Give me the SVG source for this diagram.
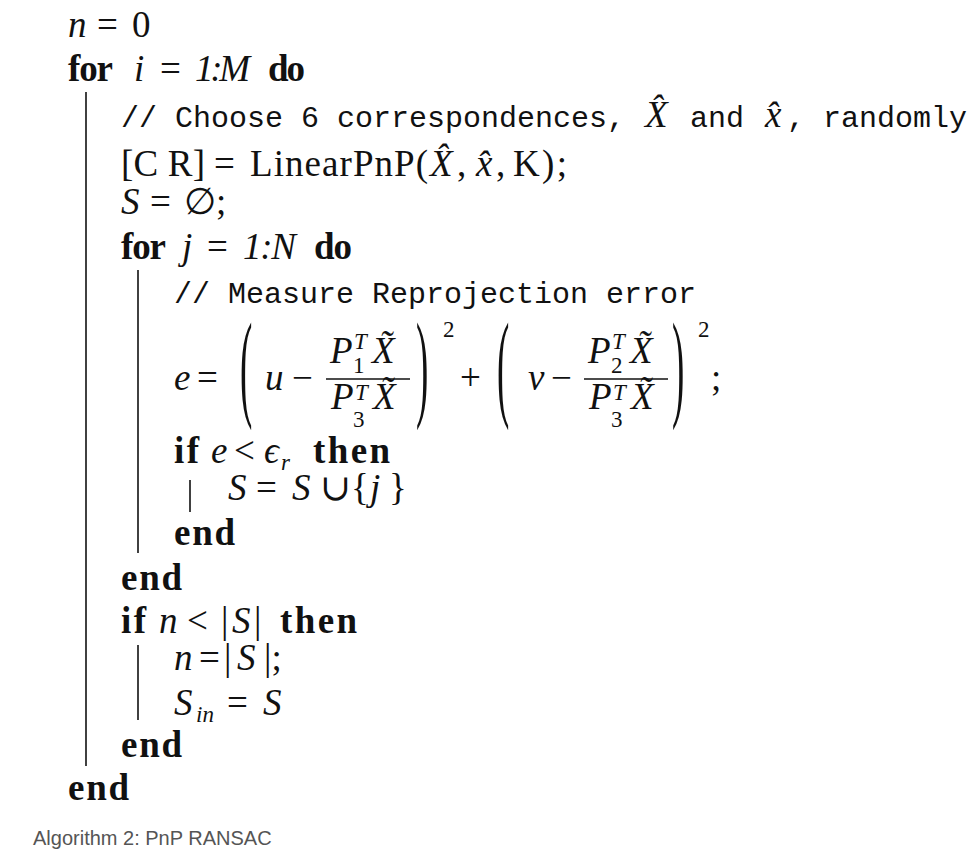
<svg xmlns="http://www.w3.org/2000/svg" width="973" height="864" viewBox="0 0 973 864">
<style>
.rm{font-family:"Liberation Serif","DejaVu Serif",serif;font-size:37px;fill:#111}
.it{font-style:italic}
.bf{font-weight:bold}
.tt{font-family:"Liberation Mono","DejaVu Sans Mono",monospace;font-size:30px;fill:#111}
.sm{font-size:23px}
.cap{font-family:"Liberation Sans",Arial,sans-serif;font-size:20px;fill:#555}
.bar{stroke:#111;stroke-width:1.6;fill:none}
.frac{stroke:#111;stroke-width:1.5}
</style>
<rect width="973" height="864" fill="#fff"/>

<g id="blocks">
<line class="bar" x1="86" y1="92" x2="86" y2="766"/>
<line class="bar" x1="138" y1="270" x2="138" y2="553"/>
<line class="bar" x1="190" y1="480" x2="190" y2="512"/>
<line class="bar" x1="138" y1="645" x2="138" y2="720"/>
</g>

<g id="line-n0">
<text class="rm it" x="68" y="37">n</text>
<text class="rm" x="97" y="37">=</text>
<text class="rm" x="132" y="37">0</text>
</g>

<g id="line-for-i">
<text class="rm bf" x="68" y="81" textLength="45">for</text>
<text class="rm it" x="134" y="81">i</text>
<text class="rm" x="160" y="81">=</text>
<text class="rm it" x="195" y="81" textLength="55">1:M</text>
<text class="rm bf" x="268" y="81" textLength="37">do</text>
</g>

<g id="line-choose">
<text class="tt" x="121" y="127">// Choose 6 correspondences,</text>
<text class="rm it" x="645" y="127">X&#x302;</text>
<text class="tt" x="690" y="127">and</text>
<text class="rm it" x="765" y="127">x&#x302;</text>
<text class="tt" x="787" y="127">, randomly</text>
</g>

<g id="line-linearpnp">
<text class="rm" x="121" y="176" textLength="84">[C R]</text>
<text class="rm" x="214" y="176">=</text>
<text class="rm" x="250" y="176" textLength="178">LinearPnP(</text>
<text class="rm it" x="430" y="176">X&#x302;</text>
<text class="rm" x="457" y="176">,</text>
<text class="rm it" x="476" y="176">x&#x302;</text>
<text class="rm" x="496" y="176">,</text>
<text class="rm" x="513" y="176" textLength="54">K);</text>
</g>

<g id="line-S-empty">
<text class="rm it" x="121" y="214">S</text>
<text class="rm" x="150" y="214">=</text>
<text class="rm" x="184" y="214">∅;</text>
</g>

<g id="line-for-j">
<text class="rm bf" x="121" y="259" textLength="45">for</text>
<text class="rm it" x="182" y="259">j</text>
<text class="rm" x="207" y="259">=</text>
<text class="rm it" x="243" y="259" textLength="53">1:N</text>
<text class="rm bf" x="314" y="259" textLength="38">do</text>
</g>

<g id="line-measure">
<text class="tt" x="174" y="303">// Measure Reprojection error</text>
</g>

<g id="line-equation">
<text class="rm it" x="174" y="390">e</text>
<text class="rm" x="197" y="390">=</text>
<text class="rm" transform="translate(240,405) scale(1,3.2)" x="0" y="0">(</text>
<text class="rm it" x="265" y="390">u</text>
<text class="rm" x="292" y="390">−</text>
<line class="frac" x1="326" y1="379" x2="410" y2="379"/>
<text class="rm it" x="330" y="363">P</text>
<text class="rm it sm" x="354" y="349">T</text>
<text class="rm sm" x="353" y="373">1</text>
<text class="rm it" x="372" y="363">X&#x303;</text>
<text class="rm it" x="331" y="409">P</text>
<text class="rm it sm" x="355" y="400">T</text>
<text class="rm sm" x="353" y="427">3</text>
<text class="rm it" x="373" y="409">X&#x303;</text>
<text class="rm" transform="translate(416,405) scale(1,3.2)" x="0" y="0">)</text>
<text class="rm sm" x="443" y="337">2</text>
<text class="rm" x="460" y="390">+</text>
<text class="rm" transform="translate(497,405) scale(1,3.2)" x="0" y="0">(</text>
<text class="rm it" x="528" y="390">v</text>
<text class="rm" x="551" y="390">−</text>
<line class="frac" x1="584" y1="379" x2="668" y2="379"/>
<text class="rm it" x="588" y="363">P</text>
<text class="rm it sm" x="612" y="349">T</text>
<text class="rm sm" x="611" y="373">2</text>
<text class="rm it" x="630" y="363">X&#x303;</text>
<text class="rm it" x="589" y="409">P</text>
<text class="rm it sm" x="613" y="400">T</text>
<text class="rm sm" x="611" y="427">3</text>
<text class="rm it" x="631" y="409">X&#x303;</text>
<text class="rm" transform="translate(672,405) scale(1,3.2)" x="0" y="0">)</text>
<text class="rm sm" x="698" y="337">2</text>
<text class="rm" x="711" y="390">;</text>
</g>

<g id="line-if-e">
<text class="rm bf" x="174" y="463" textLength="25">if</text>
<text class="rm it" x="211" y="463">e</text>
<text class="rm" x="234" y="463">&lt;</text>
<text class="rm it" x="264" y="463">ϵ</text>
<text class="rm it sm" x="281" y="470">r</text>
<text class="rm bf" x="313" y="463" textLength="77">then</text>
</g>

<g id="line-union">
<text class="rm it" x="228" y="500">S</text>
<text class="rm" x="256" y="500">=</text>
<text class="rm it" x="292" y="500">S</text>
<text class="rm" x="320" y="500">∪</text>
<text class="rm" x="351" y="500">{</text>
<text class="rm it" x="370" y="500">j</text>
<text class="rm" x="389" y="500">}</text>
</g>

<g id="line-end-if1">
<text class="rm bf" x="174" y="545" textLength="61">end</text>
</g>
<g id="line-end-for-j">
<text class="rm bf" x="121" y="590" textLength="61">end</text>
</g>

<g id="line-if-n">
<text class="rm bf" x="121" y="633" textLength="25">if</text>
<text class="rm it" x="159" y="633">n</text>
<text class="rm" x="187" y="633">&lt;</text>
<text class="rm" x="221" y="633">|</text>
<text class="rm it" x="232" y="633">S</text>
<text class="rm" x="254" y="633">|</text>
<text class="rm bf" x="280" y="633" textLength="77">then</text>
</g>

<g id="line-n-card">
<text class="rm it" x="174" y="670">n</text>
<text class="rm" x="199" y="670">=</text>
<text class="rm" x="224" y="670">|</text>
<text class="rm it" x="237" y="670">S</text>
<text class="rm" x="264" y="670">|;</text>
</g>

<g id="line-S-in">
<text class="rm it" x="174" y="715">S</text>
<text class="rm it sm" x="196" y="722">in</text>
<text class="rm" x="227" y="715">=</text>
<text class="rm it" x="263" y="715">S</text>
</g>

<g id="line-end-if2">
<text class="rm bf" x="121" y="757" textLength="61">end</text>
</g>
<g id="line-end-for-i">
<text class="rm bf" x="68" y="800" textLength="61">end</text>
</g>

<g id="caption">
<text class="cap" x="33" y="845">Algorithm 2: PnP RANSAC</text>
</g>
</svg>
